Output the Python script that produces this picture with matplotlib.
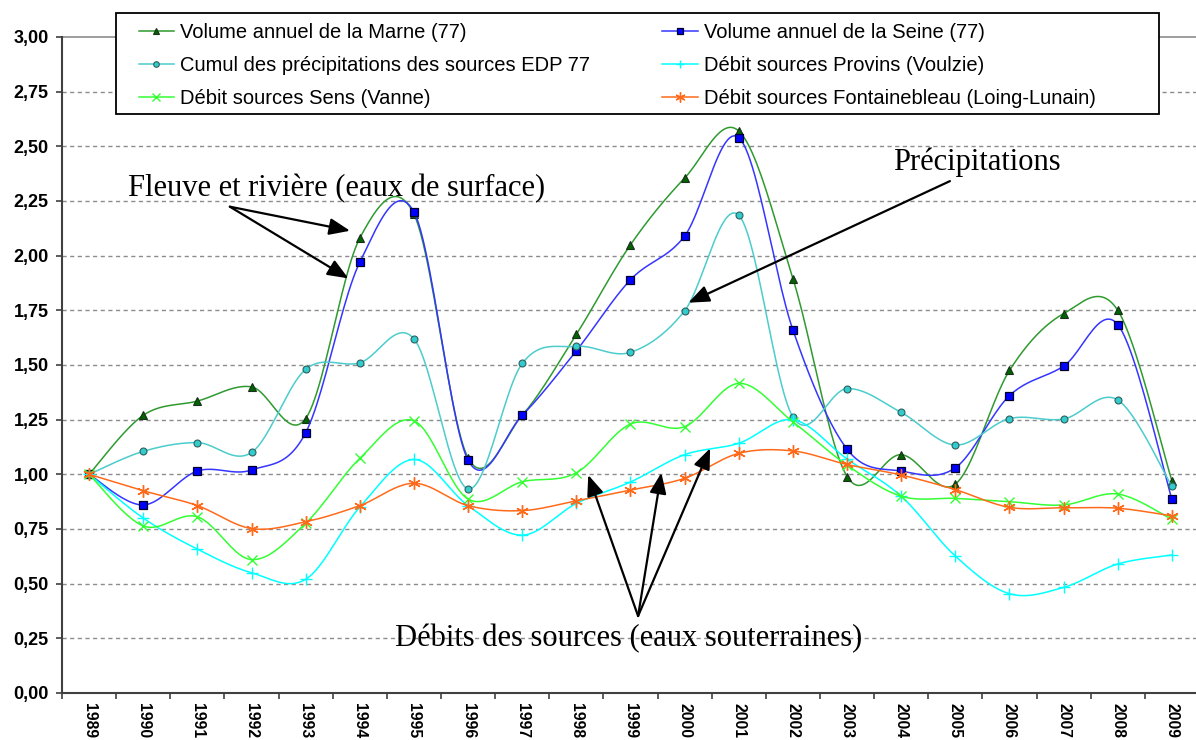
import numpy as np
import matplotlib
matplotlib.use("Agg")
import matplotlib.pyplot as plt
from matplotlib.lines import Line2D
from matplotlib.patches import Rectangle

# Années (catégories de l'axe horizontal)
years = [str(y) for y in range(1989, 2010)]

# Indices annuels (base 1 en 1989)
marne = [1.00, 1.27, 1.335, 1.40, 1.255, 2.08, 2.19, 1.075, 1.27, 1.64, 2.05,
         2.355, 2.57, 1.895, 0.99, 1.09, 0.955, 1.475, 1.735, 1.75, 0.97]
seine = [1.00, 0.86, 1.015, 1.02, 1.19, 1.97, 2.20, 1.065, 1.27, 1.565, 1.89,
         2.09, 2.54, 1.66, 1.115, 1.015, 1.03, 1.36, 1.495, 1.685, 0.885]
cumul = [1.00, 1.105, 1.145, 1.10, 1.48, 1.51, 1.62, 0.933, 1.507, 1.585, 1.558,
         1.748, 2.185, 1.262, 1.392, 1.283, 1.134, 1.255, 1.253, 1.34, 0.945]
provins = [1.00, 0.80, 0.658, 0.55, 0.52, 0.85, 1.068, 0.857, 0.722, 0.867, 0.965,
           1.09, 1.142, 1.25, 1.07, 0.90, 0.626, 0.454, 0.483, 0.59, 0.631]
sens = [1.00, 0.764, 0.806, 0.61, 0.776, 1.073, 1.245, 0.887, 0.966, 1.007, 1.23,
        1.218, 1.416, 1.24, 1.042, 0.90, 0.89, 0.875, 0.86, 0.91, 0.794]
fontainebleau = [1.00, 0.925, 0.857, 0.752, 0.783, 0.857, 0.959, 0.857, 0.834, 0.879,
                 0.928, 0.982, 1.096, 1.107, 1.045, 0.997, 0.93, 0.849, 0.847, 0.845, 0.81]

labels = ["Volume annuel de la Marne (77)",
          "Volume annuel de la Seine (77)",
          "Cumul des précipitations des sources EDP 77",
          "Débit sources Provins (Voulzie)",
          "Débit sources Sens (Vanne)",
          "Débit sources Fontainebleau (Loing-Lunain)"]

y_ticks = [0.0, 0.25, 0.5, 0.75, 1.0, 1.25, 1.5, 1.75, 2.0, 2.25, 2.5, 2.75, 3.0]


def smooth(values, n=24):
    """Courbe lissée (Bézier de type Catmull-Rom) passant par chaque point."""
    y = np.asarray(values, float)
    pts = np.column_stack([np.arange(len(y), dtype=float), y])
    ext = np.vstack([pts[0], pts, pts[-1]])
    out = []
    for i in range(len(pts) - 1):
        p0, p1, p2, p3 = ext[i], ext[i + 1], ext[i + 2], ext[i + 3]
        c1 = p1 + (p2 - p0) / 6.0
        c2 = p2 - (p3 - p1) / 6.0
        t = np.linspace(0, 1, n, endpoint=(i == len(pts) - 2))[:, None]
        seg = ((1 - t) ** 3) * p1 + 3 * ((1 - t) ** 2) * t * c1 \
            + 3 * (1 - t) * (t ** 2) * c2 + (t ** 3) * p2
        out.append(seg)
    a = np.vstack(out)
    return a[:, 0], a[:, 1]


W, H = 1196, 740
fig = plt.figure(figsize=(W / 100, H / 100), dpi=100)
ax = fig.add_axes([62 / W, 47 / H, 1137 / W, 656 / H])
ax.set_xlim(-0.5, 20.5)
ax.set_ylim(0, 3)

# Quadrillage horizontal
for v in y_ticks[1:-1]:
    ax.axhline(v, color="#8c8c8c", lw=1.0, ls=(0, (3, 2.5)), zorder=0)
ax.axhline(3.0, color="#8c8c8c", lw=1.2, zorder=0, clip_on=False)

asterisk = (6, 2, 0)
styles = [
    dict(data=marne, color="#2f9a2f", marker="^", mfc="#006400", mec="#1c2e1c", ms=6.2, mew=0.8),
    dict(data=seine, color="#3535ff", marker="s", mfc="#0000ff", mec="#00002a", ms=5.6, mew=0.9),
    dict(data=cumul, color="#4ccccc", marker="o", mfc="#33cccc", mec="#2f5f5f", ms=5.0, mew=0.8),
    dict(data=provins, color="#00ffff", marker="+", mfc="#00ffff", mec="#00ffff", ms=8, mew=1.0),
    dict(data=sens, color="#33ff33", marker="x", mfc="#33ff33", mec="#33ff33", ms=7, mew=1.0),
    dict(data=fontainebleau, color="#ff6a1a", marker=asterisk, mfc="#ff6a1a", mec="#ff6a1a", ms=9, mew=1.0),
]

x = np.arange(len(years))
handles = []
for k, (st, lab) in enumerate(zip(styles, labels)):
    sx, sy = smooth(st["data"])
    ax.plot(sx, sy, color=st["color"], lw=1.1, zorder=3 + k, solid_capstyle="round")
    ax.plot(x, st["data"], ls="none", marker=st["marker"], ms=st["ms"],
            mfc=st["mfc"], mec=st["mec"], mew=st["mew"], zorder=3 + k)
    handles.append(Line2D([], [], color=st["color"], lw=1.1, marker=st["marker"],
                          ms=st["ms"] * 0.8, mfc=st["mfc"], mec=st["mec"], mew=st["mew"]))

# Axes
ax.set_yticks(y_ticks)
ax.set_yticklabels([f"{v:.2f}".replace(".", ",") for v in y_ticks],
                   fontsize=13, fontweight="bold", family="Liberation Sans")
ax.tick_params(axis="y", length=4.5, width=1.2, color="#404040", pad=5, direction="out")

ax.set_xticks(x)
ax.set_xticklabels(years, rotation=270, fontsize=11.3, fontweight="bold",
                   family="Liberation Sans")
ax.tick_params(axis="x", which="major", length=0, pad=7)
ax.set_xticks(np.arange(-0.5, 21.0, 1.0), minor=True)
ax.tick_params(axis="x", which="minor", length=4.5, width=1.2, color="#404040", direction="out")

for side in ("top", "right"):
    ax.spines[side].set_visible(False)
for side in ("left", "bottom"):
    ax.spines[side].set_color("#404040")
    ax.spines[side].set_linewidth(1.5)

# Cadre de la légende
fig.add_artist(Rectangle((115.6 / W, 1 - 114 / H), (1159 - 115.6) / W, 101 / H,
                         transform=fig.transFigure, facecolor="white",
                         edgecolor="black", lw=1.3, zorder=4))

# Légende sur deux colonnes (ordre de lecture ligne par ligne)
order = [0, 2, 4, 1, 3, 5]
leg = fig.legend([handles[i] for i in order], [labels[i] for i in order],
                 ncol=2, loc="upper left", bbox_to_anchor=(138.5 / W, 1 - 23.5 / H),
                 frameon=False, prop=dict(family="Liberation Sans", size=14.5),
                 handlelength=1.75, handletextpad=0.3, columnspacing=3.6,
                 labelspacing=0.69, borderpad=0, borderaxespad=0)
leg.set_zorder(20)

# Annotations
serif = dict(family="Liberation Serif", size=22, color="black")
arrow = dict(arrowstyle="-|>,head_length=0.42,head_width=0.17", mutation_scale=30,
             color="black", lw=1.6, shrinkA=0, shrinkB=0)

ax.text(4.58, 2.309, "Fleuve et rivière (eaux de surface)", ha="center", va="center",
        zorder=15, **serif)
for tip in [(4.82, 2.114), (4.79, 1.896)]:
    ax.annotate("", xy=tip, xytext=(2.60, 2.224), arrowprops=arrow, zorder=15)

ax.text(16.39, 2.429, "Précipitations", ha="center", va="center", zorder=15, **serif)
ax.annotate("", xy=(11.07, 1.785), xytext=(15.9, 2.341), arrowprops=arrow, zorder=15)

ax.text(9.97, 0.251, "Débits des sources (eaux souterraines)", ha="center", va="center",
        zorder=15, **serif)
for tip in [(9.22, 0.997), (10.57, 1.007), (11.47, 1.119)]:
    ax.annotate("", xy=tip, xytext=(10.14, 0.352), arrowprops=arrow, zorder=15)

fig.savefig("out.png", dpi=100, facecolor="white")
